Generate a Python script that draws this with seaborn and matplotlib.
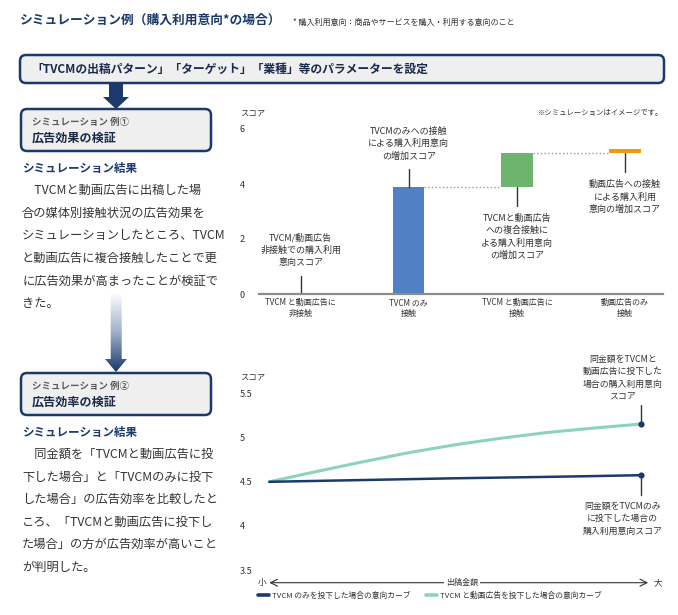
import pandas as pd
import matplotlib
matplotlib.use('Agg')
import matplotlib.pyplot as plt
import seaborn as sns
from matplotlib.patches import FancyBboxPatch, Polygon
from matplotlib.colors import LinearSegmentedColormap
from matplotlib.lines import Line2D

# ---- data: example 1 (waterfall of purchase intention score) ----
bar_labels = ['TVCM と動画広告に\n非接触', 'TVCM のみ\n接触', 'TVCM と動画広告に\n接触', '動画広告のみ\n接触']
bar_base = [0, 0, 3.88, 5.12]
bar_gain = [0, 3.88, 1.24, 0.14]
bar_notes = ['TVCM/動画広告\n非接触での購入利用\n意向スコア',
             'TVCMのみへの接触\nによる購入利用意向\nの増加スコア',
             'TVCMと動画広告\nへの複合接触に\nよる購入利用意向\nの増加スコア',
             '動画広告への接触\nによる購入利用\n意向の増加スコア']
bar_ticks = [0, 2, 4, 6]

# ---- data: example 2 (score curve by spend) ----
spend = [0, 0.125, 0.25, 0.375, 0.5, 0.625, 0.75, 0.875, 1.0]
score_tvcm = [4.50, 4.51, 4.52, 4.53, 4.54, 4.548, 4.556, 4.565, 4.575]
score_mix = [4.50, 4.615, 4.725, 4.83, 4.92, 4.995, 5.06, 5.11, 5.155]
curve_names = ['TVCM のみを投下した場合の意向カーブ', 'TVCM と動画広告を投下した場合の意向カーブ']
score_ticks = [3.5, 4, 4.5, 5, 5.5]
score_ticklabels = ['3.5', '4', '4.5', '5', '5.5']

# left column texts
body_1 = ['\u3000TVCMと動画広告に出稿した場',
          '合の媒体別接触状況の広告効果を',
          'シミュレーションしたところ、TVCM',
          'と動画広告に複合接触したことで更',
          'に広告効果が高まったことが検証で',
          'きた。']
body_2 = ['\u3000同金額を「TVCMと動画広告に投',
          '下した場合」と「TVCMのみに投下',
          'した場合」の広告効率を比較したと',
          'ころ、「TVCMと動画広告に投下し',
          'た場合」の方が広告効率が高いこと',
          'が判明した。']

# colours
navy = '#1b3a6b'
teal = '#8dd2c1'
bar_colors = ['#4f81c4', '#4f81c4', '#6db46e', '#f39a0c']
text_dark = '#333333'

sns.set_style('white')
plt.rcParams['font.family'] = ['Noto Sans CJK JP', 'DejaVu Sans']

fig = plt.figure(figsize=(6.78, 6.15), dpi=100)

# background axes in pixel coordinates for the infographic parts
bg = fig.add_axes([0, 0, 1, 1])
bg.axis('off')

bg.text(20, 20, 'シミュレーション例（購入利用意向*の場合）', fontsize=9.2, fontweight='bold',
        color=navy, va='center')
bg.text(293, 22, '* 購入利用意向：商品やサービスを購入・利用する意向のこと', fontsize=5.8,
        color=text_dark, va='center')

# parameter box + arrow
bg.add_patch(FancyBboxPatch((20, 55), 644, 28, boxstyle='round,pad=0,rounding_size=6',
                            fc='#efefef', ec=navy, lw=1.8))
bg.text(31, 69, '「TVCMの出稿パターン」「ターゲット」「業種」等のパラメーターを設定',
        fontsize=8.5, fontweight='bold', color='#1a2a4a', va='center')
bg.add_patch(Polygon([(109, 84), (123, 84), (123, 97), (129, 97), (116, 109), (103, 97), (109, 97)],
                     closed=True, fc=navy, ec='none'))


def example_box(y, sub, title):
    bg.add_patch(FancyBboxPatch((21, y), 190, 42, boxstyle='round,pad=0,rounding_size=6',
                                fc='#efefef', ec=navy, lw=1.8))
    bg.text(32, y + 13.5, sub, fontsize=6.8, fontweight='bold', color='#5a5a5a', va='center')
    bg.text(32, y + 29, title, fontsize=8.7, fontweight='bold', color='#1a2848', va='center')


def result_text(y, lines, step):
    bg.text(22, y, 'シミュレーション結果', fontsize=8.3, fontweight='bold', color=navy, va='center')
    for i, line in enumerate(lines):
        bg.text(22, y + 22 + i * step, line, fontsize=8.8, color=text_dark, va='center')


example_box(109, 'シミュレーション 例①', '広告効果の検証')
result_text(168.3, body_1, 22.7)

# gradient arrow between the two examples
arrow = Polygon([(110.7, 292), (121.7, 292), (121.7, 359), (127, 359), (116, 372), (105, 359), (110.7, 359)],
                closed=True, fc='none', ec='none')
bg.add_patch(arrow)
grad_cmap = LinearSegmentedColormap.from_list('fade', ['#ffffff', '#9fb0cb', navy])
img = bg.imshow([[v / 99] for v in range(100)], extent=(105, 127, 372, 292), cmap=grad_cmap,
                aspect='auto', origin='upper', zorder=1)
img.set_clip_path(arrow)

example_box(373, 'シミュレーション 例②', '広告効率の検証')
result_text(432.7, body_2, 22.5)

bg.set_xlim(0, 678)
bg.set_ylim(615, 0)

# axis captions
bg.text(240, 113, 'スコア', fontsize=6, color=text_dark, va='center')
bg.text(663, 113, '※シミュレーションはイメージです。', fontsize=5.3, color=text_dark, va='center', ha='right')
bg.text(240, 376.7, 'スコア', fontsize=6, color=text_dark, va='center')

# ======================================
# Example 1: waterfall chart
# ======================================
ax1 = fig.add_axes([259 / 678, 1 - 294 / 615, 404 / 678, 178.75 / 615])
ax1.patch.set_alpha(0)
bar_w = 0.29
sns.barplot(x=bar_labels, y=bar_gain, bottom=bar_base, width=bar_w, color=bar_colors[1],
            linewidth=0, errorbar=None, ax=ax1)
for patch, c in zip(ax1.patches, bar_colors):
    patch.set_facecolor(c)

# dotted connectors between bars
for i in range(1, 3):
    top = bar_base[i] + bar_gain[i]
    ax1.plot([i + bar_w / 2, i + 1 - bar_w / 2], [top, top], linestyle=':', color='#9a9a9a', lw=1)

# leader lines and notes
for i, note in enumerate(bar_notes):
    if i < 2:
        y0 = bar_base[i] + bar_gain[i]
        y1 = y0 + 0.67
        ax1.plot([i, i], [y0, y1], color=text_dark, lw=1)
        ax1.text(i, y1 + 0.3, note, ha='center', va='bottom', fontsize=6.5, linespacing=1.45,
                 color=text_dark)
    else:
        y0 = bar_base[i]
        y1 = y0 - 0.69
        ax1.plot([i, i], [y0, y1], color=text_dark, lw=1)
        ax1.text(i, y1 - 0.28, note, ha='center', va='top', fontsize=6.5, linespacing=1.45,
                 color=text_dark)

ax1.set_xlim(-0.386, 3.352)
ax1.set_ylim(0, 6.5)
ax1.set_yticks(bar_ticks)
ax1.set_yticklabels([str(t) for t in bar_ticks])
ax1.set_xlabel('')
ax1.set_ylabel('')
ax1.tick_params(axis='y', length=0, pad=13.7, labelsize=6.5, labelcolor=text_dark)
ax1.tick_params(axis='x', length=0, pad=3, labelsize=5.8, labelcolor=text_dark)
for t in ax1.get_yticklabels():
    t.set_ha('left')
for s in ['left', 'top', 'right']:
    ax1.spines[s].set_visible(False)
ax1.spines['bottom'].set_color('#8c8c8c')
ax1.spines['bottom'].set_linewidth(1.6)

# ======================================
# Example 2: score curves
# ======================================
ax2 = fig.add_axes([259 / 678, (615 - 582.7) / 615, 404 / 678, 197.9 / 615])
ax2.patch.set_alpha(0)
curve_data = pd.DataFrame({
    'spend': spend + spend,
    'score': score_mix + score_tvcm,
    'curve': [curve_names[1]] * len(spend) + [curve_names[0]] * len(spend),
})
sns.lineplot(data=curve_data, x='spend', y='score', hue='curve',
             hue_order=[curve_names[1], curve_names[0]], palette=[teal, navy],
             linewidth=2.0, legend=False, ax=ax2)
ax2.lines[0].set_linewidth(2.2)
ax2.lines[1].set_linewidth(1.8)
sns.scatterplot(x=[spend[-1], spend[-1]], y=[score_tvcm[-1], score_mix[-1]], color=navy,
                s=20, linewidth=0, zorder=5, ax=ax2)

# notes at the end points
x_end = spend[-1]
ax2.plot([x_end, x_end], [score_mix[-1], score_mix[-1] + 0.22], color=text_dark, lw=1, zorder=4)
ax2.text(0.952, score_mix[-1] + 0.26,
         '同金額をTVCMと\n動画広告に投下した\n場合の購入利用意向\nスコア',
         ha='center', va='bottom', fontsize=6.4, linespacing=1.5, color=text_dark)
ax2.plot([x_end, x_end], [score_tvcm[-1], score_tvcm[-1] - 0.22], color=text_dark, lw=1, zorder=4)
ax2.text(0.952, score_tvcm[-1] - 0.3,
         '同金額をTVCMのみ\nに投下した場合の\n購入利用意向スコア',
         ha='center', va='top', fontsize=6.4, linespacing=1.5, color=text_dark)

y_axis = 3.356
ax2.set_xlim(-0.0277, 1.06)
ax2.set_ylim(y_axis, 5.6)

# spend axis arrow
ax2.annotate('', xy=(1.02, y_axis), xytext=(0, y_axis), annotation_clip=False,
             arrowprops=dict(arrowstyle='<->,head_length=0.5,head_width=0.25', lw=0.8,
                             color=text_dark, shrinkA=0, shrinkB=0))
ax2.text(0.518, y_axis, '出稿金額', ha='center', va='center', fontsize=5.8, color=text_dark,
         bbox=dict(fc='white', ec='none', pad=1.5), clip_on=False)
ax2.text(-0.02, y_axis, '小', ha='center', va='center', fontsize=6.2, color=text_dark, clip_on=False)
ax2.text(1.047, y_axis, '大', ha='center', va='center', fontsize=6.2, color=text_dark, clip_on=False)

ax2.set_yticks(score_ticks)
ax2.set_yticklabels(score_ticklabels)
ax2.set_xticks([])
ax2.set_xlabel('')
ax2.set_ylabel('')
ax2.tick_params(axis='y', length=0, pad=13.7, labelsize=6.5, labelcolor=text_dark)
for t in ax2.get_yticklabels():
    t.set_ha('left')
for s in ax2.spines.values():
    s.set_visible(False)

# legend
handles = [Line2D([0], [0], color=navy, lw=2.6), Line2D([0], [0], color=teal, lw=2.6)]
ax2.legend(handles, curve_names, loc='center left', bbox_to_anchor=(258 / 678, 1 - 595.7 / 615),
           bbox_transform=fig.transFigure, ncol=2, frameon=False, fontsize=5.6,
           handlelength=1.4, handletextpad=0.4, columnspacing=2.0, borderpad=0, borderaxespad=0,
           labelcolor=text_dark)

fig.savefig('out.png', dpi=100)
